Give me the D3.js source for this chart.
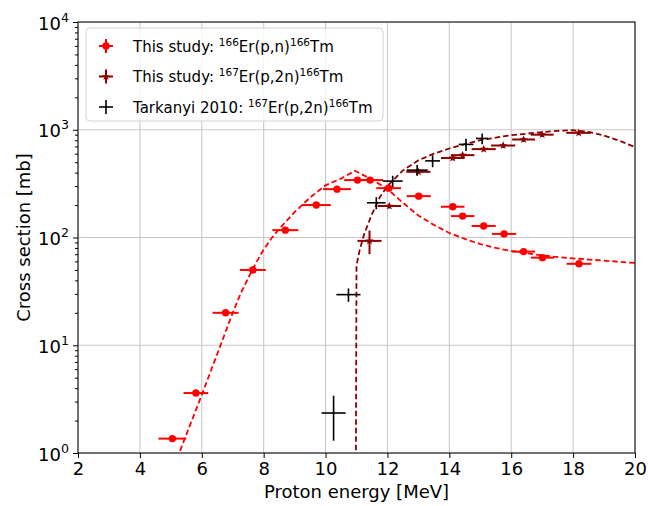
<!DOCTYPE html>
<html>
<head>
<meta charset="utf-8">
<script src="https://cdn.jsdelivr.net/npm/d3@7"></script>
<style>
  html, body { margin: 0; padding: 0; background: #fff; }
  svg { display: block; font-family: "DejaVu Sans", sans-serif; }
</style>
</head>
<body>
<svg id="chart" width="648" height="506"></svg>
<script>
// 166Er(p,n)166Tm, this study
const pnEnergy    = [5.05, 5.81, 6.77, 7.65, 8.70, 9.70, 10.37, 11.03, 11.44, 12.04, 13.01, 14.11, 14.43, 15.11, 15.77, 16.40, 17.01, 18.19];
const pnEnergyErr = [0.45, 0.40, 0.42, 0.42, 0.42, 0.47, 0.45, 0.43, 0.42, 0.40, 0.39, 0.38, 0.38, 0.39, 0.39, 0.37, 0.37, 0.40];
const pnSigma     = [1.36, 3.6, 20, 50, 117, 200, 281, 341, 341, 287, 242, 193, 158, 128, 108, 74, 65, 57];
const pnSigmaErr  = [0.08, 0.2, 1.1, 2.8, 6.5, 11, 15, 18, 18, 15, 13, 10, 8.5, 7, 6, 4, 3.5, 3];

// 167Er(p,2n)166Tm, this study
const p2nEnergy    = [11.42, 12.06, 13.00, 14.11, 14.43, 15.11, 15.74, 16.40, 17.00, 18.18];
const p2nEnergyErr = [0.39, 0.38, 0.39, 0.38, 0.38, 0.39, 0.39, 0.37, 0.37, 0.40];
const p2nSigma     = [93, 196, 407, 547, 581, 661, 714, 812, 900, 936];
const p2nSigmaErr  = [23, 10, 20, 27, 29, 33, 35, 40, 44, 47];

// Tarkanyi 2010, 167Er(p,2n)166Tm
const tkEnergy    = [10.26, 10.74, 11.64, 12.17, 12.96, 13.46, 14.54, 15.06];
const tkEnergyErr = [0.39, 0.39, 0.30, 0.32, 0.34, 0.24, 0.24, 0.20];
const tkSigma     = [2.35, 29.5, 210, 334, 422, 514, 731, 830];
const tkSigmaErr  = [1.05, 4.2, 27, 40, 48, 65, 95, 95];

// model excitation functions
const pnModelE = [5.0, 5.5, 6.0, 6.5, 7.0, 7.25, 7.5, 7.75, 8.0, 8.25, 8.5, 9.0, 9.5, 10.0, 10.5, 10.95, 11.5, 12.0, 12.5, 13.0, 13.5, 14.0, 14.5, 15.0, 15.5, 16.0, 17.0, 18.0, 19.0, 20.0];
const pnModelS = [0.63, 1.48, 3.46, 8.3, 20, 30, 42, 58, 77, 98, 120, 172, 235, 305, 352, 416, 345, 282, 210, 160, 131, 110, 97, 87, 80, 75, 68, 64, 61, 58];
const p2nModelE = [10.97, 11.0, 11.1, 11.25, 11.5, 11.75, 12.0, 12.5, 13.0, 13.5, 14.0, 14.5, 15.0, 15.5, 16.0, 16.5, 17.0, 17.5, 18.0, 18.5, 19.0, 19.5, 20.0];
const p2nModelS = [0.1, 55, 76, 108, 165, 235, 300, 420, 520, 600, 670, 735, 800, 845, 890, 920, 950, 978, 990, 955, 885, 790, 690];

// axis ticks
const xTicks = [2, 4, 6, 8, 10, 12, 14, 16, 18, 20];
const yTicks = [1, 10, 100, 1000, 10000];
const yTickExp = ["0", "1", "2", "3", "4"];

const legendLabels = [
  {pre: "This study: ", a: "166", mid: "Er(p,n)", b: "166", post: "Tm"},
  {pre: "This study: ", a: "167", mid: "Er(p,2n)", b: "166", post: "Tm"},
  {pre: "Tarkanyi 2010: ", a: "167", mid: "Er(p,2n)", b: "166", post: "Tm"}
];

const RED = "#ff0000", DARKRED = "#8b0000", BLACK = "#000000";

const svg = d3.select("#chart");
const L = 78, R = 635, T = 22, B = 453;
const x = d3.scaleLinear().domain([2, 20]).range([L, R]);
const y = d3.scaleLog().domain([1, 1e4]).range([B, T]);

svg.append("defs").append("clipPath").attr("id", "plotclip")
  .append("rect").attr("x", L).attr("y", T).attr("width", R - L).attr("height", B - T);

// grid
const grid = svg.append("g");
grid.selectAll(".gx").data(xTicks).join("line")
  .attr("x1", d => x(d)).attr("x2", d => x(d)).attr("y1", T).attr("y2", B)
  .attr("stroke", "#c9c9c9").attr("stroke-width", 1.1);
grid.selectAll(".gy").data(yTicks).join("line")
  .attr("x1", L).attr("x2", R).attr("y1", d => y(d)).attr("y2", d => y(d))
  .attr("stroke", "#c9c9c9").attr("stroke-width", 1.1);

const plot = svg.append("g").attr("clip-path", "url(#plotclip)");

// model curves
const line = d3.line().x(d => x(d[0])).y(d => y(d[1]));
plot.append("path")
  .attr("d", line(pnModelE.map((e, i) => [e, pnModelS[i]])))
  .attr("fill", "none").attr("stroke", RED).attr("stroke-width", 1.8)
  .attr("stroke-dasharray", "5.5,3");
plot.append("path")
  .attr("d", line(p2nModelE.map((e, i) => [e, p2nModelS[i]])))
  .attr("fill", "none").attr("stroke", DARKRED).attr("stroke-width", 1.8)
  .attr("stroke-dasharray", "5.5,3");

// error bars
function errorbars(g, E, dE, S, dS, color, width) {
  const data = E.map((e, i) => ({e, de: dE[i], s: S[i], ds: dS[i]}));
  const grp = g.append("g").attr("stroke", color).attr("stroke-width", width);
  grp.selectAll(".h").data(data).join("line")
    .attr("x1", d => x(d.e - d.de)).attr("x2", d => x(d.e + d.de))
    .attr("y1", d => y(d.s)).attr("y2", d => y(d.s));
  grp.selectAll(".v").data(data).join("line")
    .attr("x1", d => x(d.e)).attr("x2", d => x(d.e))
    .attr("y1", d => y(Math.max(d.s - d.ds, 1e-3))).attr("y2", d => y(d.s + d.ds));
  return data;
}

const pnData = errorbars(plot, pnEnergy, pnEnergyErr, pnSigma, pnSigmaErr, RED, 2);
plot.append("g").selectAll("circle").data(pnData).join("circle")
  .attr("cx", d => x(d.e)).attr("cy", d => y(d.s)).attr("r", 3.7).attr("fill", RED);

const p2nData = errorbars(plot, p2nEnergy, p2nEnergyErr, p2nSigma, p2nSigmaErr, DARKRED, 2);
const star = d3.symbol().type(d3.symbolStar).size(22);
plot.append("g").selectAll("path").data(p2nData).join("path")
  .attr("transform", d => `translate(${x(d.e)},${y(d.s)})`)
  .attr("d", star).attr("fill", DARKRED);

errorbars(plot, tkEnergy, tkEnergyErr, tkSigma, tkSigmaErr, BLACK, 1.6);

// frame
svg.append("rect").attr("x", L).attr("y", T).attr("width", R - L).attr("height", B - T)
  .attr("fill", "none").attr("stroke", "#000").attr("stroke-width", 1);

// x axis
const xAxis = svg.append("g").attr("transform", `translate(0,${B})`)
  .call(d3.axisBottom(x).tickValues(xTicks).tickSize(5).tickPadding(4).tickFormat(d3.format("d")));
xAxis.select(".domain").remove();
xAxis.selectAll("text").attr("font-size", 18).attr("fill", "#000").attr("font-family", "DejaVu Sans");

// y axis: minor ticks
const minor = [];
for (let p = 0; p < 4; p++) for (let k = 2; k <= 9; k++) minor.push(k * Math.pow(10, p));
const yMinor = svg.append("g").attr("transform", `translate(${L},0)`)
  .call(d3.axisLeft(y).tickValues(minor).tickSize(3).tickFormat(""));
yMinor.select(".domain").remove();

const yAxis = svg.append("g").attr("transform", `translate(${L},0)`)
  .call(d3.axisLeft(y).tickValues(yTicks).tickSize(5).tickFormat(""));
yAxis.select(".domain").remove();
yAxis.selectAll(".tick").each(function (d, i) {
  const t = d3.select(this).append("text")
    .attr("x", -9).attr("y", 7).attr("text-anchor", "end").attr("fill", "#000")
    .attr("font-family", "DejaVu Sans");
  t.append("tspan").attr("font-size", 18).text("10");
  t.append("tspan").attr("font-size", 12.6).attr("dy", -8).text(yTickExp[i]);
});

// axis titles
svg.append("text").attr("x", (L + R) / 2).attr("y", 498).attr("text-anchor", "middle")
  .attr("font-size", 18).text("Proton energy [MeV]");
svg.append("text").attr("transform", `translate(30,${(T + B) / 2}) rotate(-90)`)
  .attr("text-anchor", "middle").attr("font-size", 18).text("Cross section [mb]");

// legend
const lg = svg.append("g");
lg.append("rect").attr("x", 86).attr("y", 28).attr("width", 297).attr("height", 93)
  .attr("rx", 4).attr("fill", "#fff").attr("fill-opacity", 0.8)
  .attr("stroke", "#d4d4d4").attr("stroke-width", 1);
const rowsY = [46, 76.5, 107];
const handleColors = [RED, DARKRED, BLACK];
legendLabels.forEach((lab, i) => {
  const cy = rowsY[i], cx = 106, c = handleColors[i];
  const h = lg.append("g").attr("stroke", c).attr("stroke-width", i === 2 ? 1.6 : 2);
  h.append("line").attr("x1", cx - 7).attr("x2", cx + 7).attr("y1", cy).attr("y2", cy);
  h.append("line").attr("x1", cx).attr("x2", cx).attr("y1", cy - 7).attr("y2", cy + 7);
  if (i === 0) lg.append("circle").attr("cx", cx).attr("cy", cy).attr("r", 3.7).attr("fill", RED);
  if (i === 1) lg.append("path").attr("transform", `translate(${cx},${cy})`).attr("d", star).attr("fill", DARKRED);
  const t = lg.append("text").attr("x", 133).attr("y", cy + 5.5).attr("font-size", 15).attr("fill", "#000");
  t.append("tspan").text(lab.pre);
  t.append("tspan").attr("font-size", 10.5).attr("dy", -6).text(lab.a);
  t.append("tspan").attr("dy", 6).text(lab.mid);
  t.append("tspan").attr("font-size", 10.5).attr("dy", -6).text(lab.b);
  t.append("tspan").attr("dy", 6).text(lab.post);
});
</script>
</body>
</html>
